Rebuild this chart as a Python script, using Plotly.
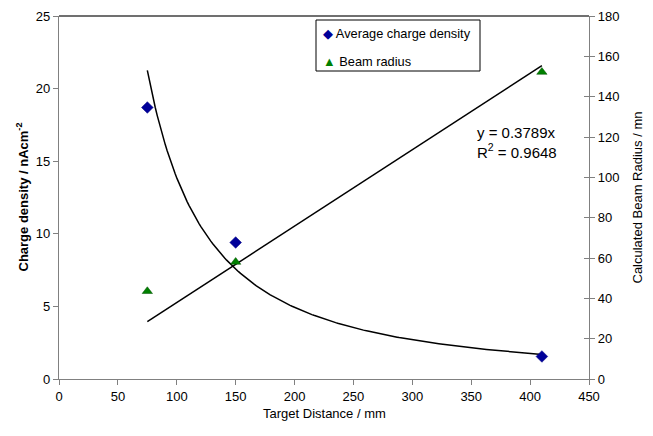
import numpy as np
import plotly.graph_objects as go

# Data
distance = [75, 150, 410]                 # Target Distance / mm
charge_density = [18.7, 9.4, 1.55]        # nAcm^-2 (left axis)
beam_radius = [43.5, 58.0, 152.2]         # mn (right axis)
eq_text = "y = 0.3789x<br>R<sup>2</sup> = 0.9648"
legend_names = ["Average charge density", "Beam radius"]

FONT = "Liberation Sans, Arial, sans-serif"
OFF = 8                      # page body margin
W, H = 653 - OFF, 436 - OFF
PL, PR, PT, PB = 59, 589, 16, 379   # plot area in window pixels
L, T = PL - OFF, PT - OFF
R, B = W - (PR - OFF), H - (PB - OFF)
PW, PH = PR - PL, PB - PT

def px_x(p):
    return (p - PL) / PW

def px_y(p):
    return (PB - p) / PH

# Trendlines fitted to the data (as the original spreadsheet did)
x_arr = np.array(distance, dtype=float)
cd = np.array(charge_density, dtype=float)
br = np.array(beam_radius, dtype=float)
b, ln_a = np.polyfit(np.log(x_arr), np.log(cd), 1)
x_fit = np.linspace(x_arr.min(), x_arr.max(), 200)
power_fit = np.exp(ln_a) * x_fit ** b
slope = (x_arr * br).sum() / (x_arr ** 2).sum()
lin_x = np.array([x_arr.min(), x_arr.max()])
lin_fit = slope * lin_x

fig = go.Figure()

fig.add_trace(go.Scatter(
    x=x_fit, y=power_fit, mode="lines", line=dict(color="black", width=1.5),
    showlegend=False, hoverinfo="skip", yaxis="y"))
fig.add_trace(go.Scatter(
    x=lin_x, y=lin_fit, mode="lines", line=dict(color="black", width=1.5),
    showlegend=False, hoverinfo="skip", yaxis="y2"))

fig.add_trace(go.Scatter(
    x=distance, y=charge_density, mode="markers", name=legend_names[0],
    showlegend=False,
    marker=dict(symbol="diamond", size=9, color="#000099",
                line=dict(color="#000080", width=0.5)),
    yaxis="y"))
fig.add_trace(go.Scatter(
    x=distance, y=beam_radius, mode="markers", name=legend_names[1],
    showlegend=False,
    marker=dict(symbol="triangle-up", size=9, color="#008000",
                line=dict(color="#005000", width=0.5)),
    yaxis="y2"))
# dummy trace to activate yaxis3 (crossing ticks on the right axis)
fig.add_trace(go.Scatter(x=[None], y=[None], yaxis="y3", showlegend=False, hoverinfo="skip"))

axis_common = dict(showgrid=False, zeroline=False, linecolor="#808080", linewidth=1.3,
                   tickcolor="#808080", ticklen=5, tickwidth=1, automargin=False,
                   ticklabeloverflow="allow",
                   tickfont=dict(family=FONT, size=13, color="black"))

annotations = [
    dict(x=px_x(475), y=px_y(122), xref="paper", yref="paper", text=eq_text,
         showarrow=False, xanchor="left", yanchor="top", align="left",
         font=dict(family=FONT, size=15, color="black")),
    # axis titles
    dict(x=0.5, y=px_y(413), xref="paper", yref="paper", text="Target Distance / mm",
         showarrow=False, xanchor="center", yanchor="middle",
         font=dict(family=FONT, size=13, color="black")),
    dict(x=px_x(22), y=0.5, xref="paper", yref="paper",
         text="<b>Charge density / nAcm<sup>-2</sup></b>", textangle=-90,
         showarrow=False, xanchor="center", yanchor="middle",
         font=dict(family=FONT, size=13, color="black")),
    dict(x=px_x(637), y=0.5, xref="paper", yref="paper",
         text="Calculated Beam Radius / mn", textangle=-90,
         showarrow=False, xanchor="center", yanchor="middle",
         font=dict(family=FONT, size=13, color="black")),
    # manual legend
    dict(x=px_x(321), y=px_y(34), xref="paper", yref="paper",
         text="<span style='color:#000099'>◆</span> " + legend_names[0],
         showarrow=False, xanchor="left", yanchor="middle",
         font=dict(family=FONT, size=12.8, color="black")),
    dict(x=px_x(321), y=px_y(61), xref="paper", yref="paper",
         text="<span style='color:#008000'>▲</span> " + legend_names[1],
         showarrow=False, xanchor="left", yanchor="middle",
         font=dict(family=FONT, size=12.8, color="black")),
]

fig.update_layout(
    width=W, height=H,
    margin=dict(l=L, r=R, t=T, b=B),
    paper_bgcolor="white", plot_bgcolor="white",
    font=dict(family=FONT, size=13, color="black"),
    showlegend=False,
    xaxis=dict(range=[0, 450], dtick=50, ticks="outside", showline=True, **axis_common),
    yaxis=dict(range=[0, 25], dtick=5, ticks="outside", showline=True, **axis_common),
    yaxis2=dict(range=[0, 180], dtick=20, ticks="outside", showline=True,
                overlaying="y", side="right", **axis_common),
    yaxis3=dict(range=[0, 180], dtick=20, ticks="inside", showline=False,
                overlaying="y", side="right", showticklabels=False,
                showgrid=False, zeroline=False, tickcolor="#808080", ticklen=5),
    shapes=[
        dict(type="line", xref="paper", yref="paper", x0=0, x1=1, y0=1, y1=1,
             line=dict(color="#404040", width=1.3)),
        dict(type="rect", xref="paper", yref="paper",
             x0=px_x(316), x1=px_x(480), y0=px_y(71), y1=px_y(20),
             line=dict(color="black", width=1), fillcolor="white", layer="below"),
    ],
    annotations=annotations,
)

fig.write_html("out.html")
